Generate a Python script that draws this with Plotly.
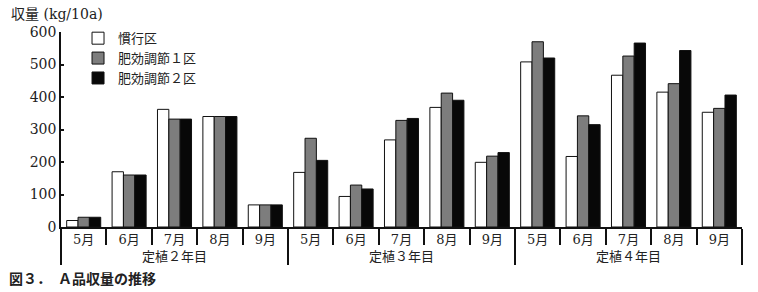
import plotly.graph_objects as go

years = ["定植２年目", "定植３年目", "定植４年目"]
months = ["5月", "6月", "7月", "8月", "9月"]
series_names = ["慣行区", "肥効調節１区", "肥効調節２区"]

kanko = [20, 170, 362, 340, 68,
         168, 94, 268, 368, 199,
         508, 217, 467, 415, 353]
hiko1 = [30, 160, 332, 340, 68,
         273, 129, 328, 412, 218,
         570, 342, 526, 441, 365]
hiko2 = [30, 160, 332, 340, 68,
         205, 117, 334, 390, 229,
         520, 315, 566, 543, 406]

y_ticks = [0, 100, 200, 300, 400, 500, 600]

x_cat = [[y for y in years for _ in months], [m for _ in years for m in months]]

colors = ["#ffffff", "#7d7d7d", "#080808"]
values = [kanko, hiko1, hiko2]

serif = "DejaVu Serif, Noto Sans CJK JP"

fig = go.Figure()
for name, vals, c in zip(series_names, values, colors):
    fig.add_trace(go.Bar(
        x=x_cat, y=vals, name=name,
        marker=dict(color=c, line=dict(color="#111111", width=1)),
    ))

fig.update_layout(
    width=758, height=292,
    margin=dict(l=61, r=16, t=32, b=65),
    paper_bgcolor="white", plot_bgcolor="white",
    barmode="group", bargap=0.25, bargroupgap=0,
    showlegend=True,
    legend=dict(x=0.025, y=1.045, xanchor="left", yanchor="top",
                font=dict(family=serif, size=13, color="#222"),
                bgcolor="rgba(0,0,0,0)", itemwidth=30, tracegroupgap=0),
    font=dict(family=serif, color="#222"),
)

fig.update_yaxes(
    range=[0, 600], tickvals=y_ticks, showgrid=False, zeroline=False,
    showline=True, linecolor="#111", linewidth=1.5,
    ticks="inside", ticklen=3, tickcolor="#111", tickwidth=1.5,
    tickfont=dict(family=serif, size=14, color="#222"),
)
fig.update_xaxes(
    type="multicategory", showgrid=False,
    showline=True, linecolor="#111", linewidth=1.5,
    ticks="outside", ticklen=16, tickcolor="#111", tickwidth=1.5,
    showdividers=True, dividercolor="#111", dividerwidth=1.5,
    tickfont=dict(family=serif, size=13, color="#222"),
)

fig.add_annotation(
    x=0, y=1, xref="paper", yref="paper", xshift=-52, yshift=18,
    xanchor="left", yanchor="middle", showarrow=False,
    text="収量 (kg/10a)", font=dict(family=serif, size=14, color="#222"),
)
fig.add_annotation(
    x=0, y=0, xref="paper", yref="paper", xshift=-54, yshift=-51,
    xanchor="left", yanchor="middle", showarrow=False,
    text="<b>図３．　Ａ品収量の推移</b>",
    font=dict(family="Noto Sans CJK JP", size=14, color="#222"),
)

fig.write_html("out.html")
